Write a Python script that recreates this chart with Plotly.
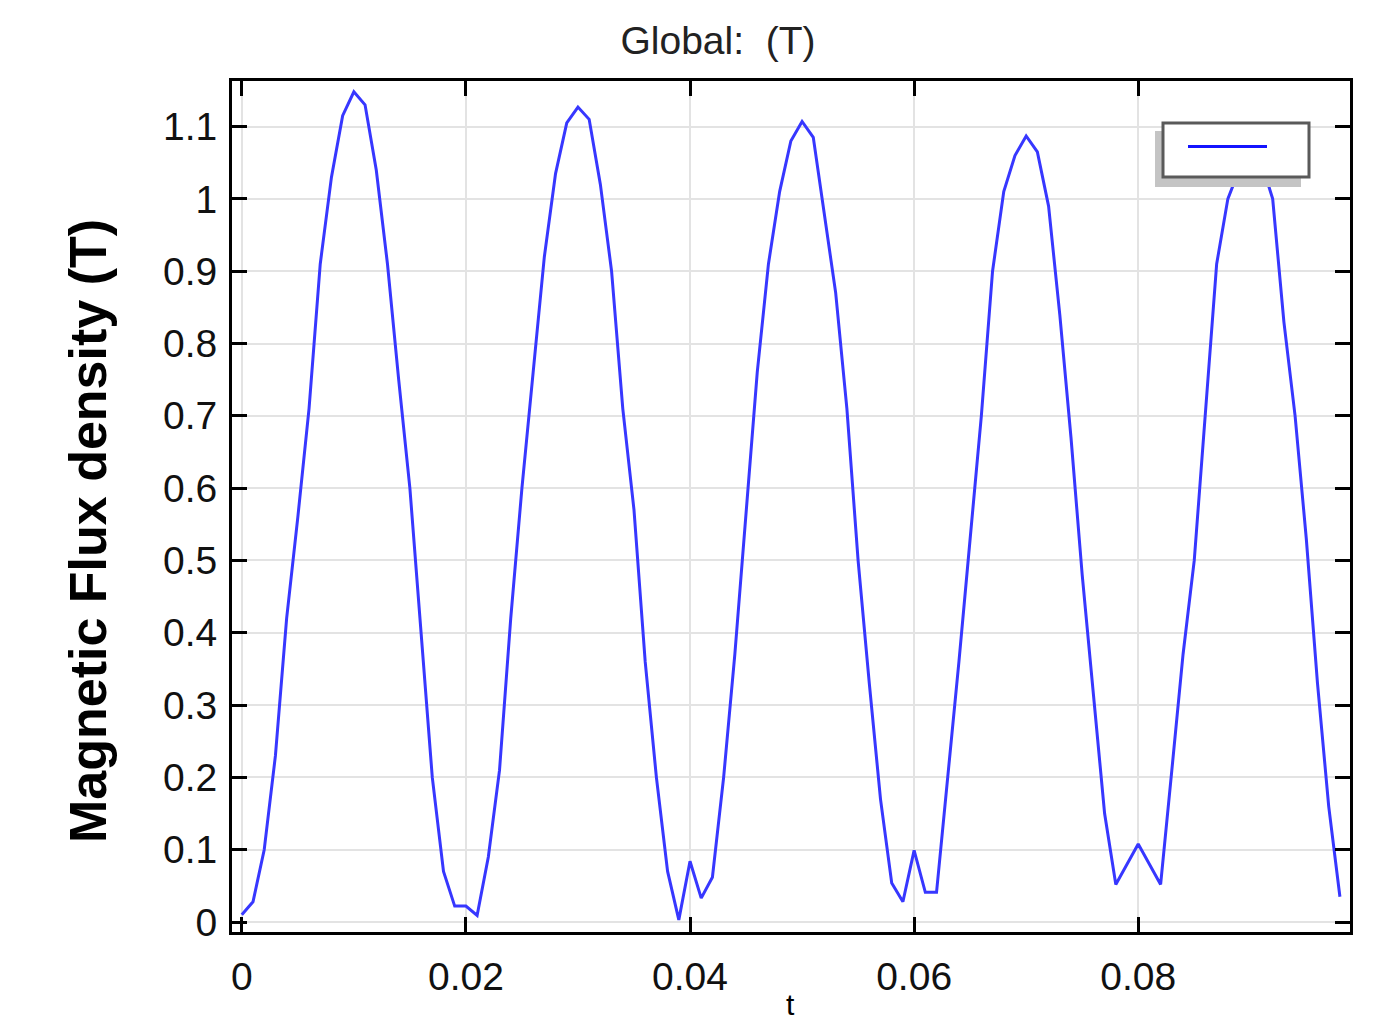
import plotly.graph_objects as go

# time samples (s)
t_step = 0.001
n_points = 99
time_s = [round(i * t_step, 3) for i in range(n_points)]

# Magnetic flux density (T)
flux_T = [
    0.010, 0.028, 0.100, 0.230, 0.420, 0.560, 0.710, 0.910, 1.030, 1.115,
    1.148, 1.130, 1.040, 0.910, 0.750, 0.600, 0.400, 0.200, 0.070, 0.022,
    0.022, 0.009, 0.090, 0.210, 0.420, 0.600, 0.760, 0.920, 1.035, 1.105,
    1.127, 1.110, 1.020, 0.900, 0.710, 0.570, 0.360, 0.200, 0.070, 0.003,
    0.084, 0.033, 0.062, 0.200, 0.370, 0.570, 0.760, 0.910, 1.010, 1.080,
    1.107, 1.085, 0.980, 0.870, 0.710, 0.500, 0.330, 0.170, 0.054, 0.028,
    0.099, 0.041, 0.041, 0.200, 0.360, 0.530, 0.700, 0.900, 1.010, 1.060,
    1.087, 1.065, 0.990, 0.840, 0.670, 0.480, 0.310, 0.150, 0.052, 0.080,
    0.108, 0.080, 0.052, 0.210, 0.370, 0.500, 0.700, 0.910, 1.000, 1.040,
    1.065, 1.050, 1.000, 0.830, 0.700, 0.530, 0.330, 0.160, 0.035,
]

x_ticks = [0, 0.02, 0.04, 0.06, 0.08]
x_tick_labels = ["0", "0.02", "0.04", "0.06", "0.08"]
y_ticks = [0, 0.1, 0.2, 0.3, 0.4, 0.5, 0.6, 0.7, 0.8, 0.9, 1.0, 1.1]
y_tick_labels = ["0", "0.1", "0.2", "0.3", "0.4", "0.5", "0.6", "0.7", "0.8", "0.9", "1", "1.1"]

title_text = "Global:  (T)"
y_title = "<b>Magnetic Flux density (T)</b>"
x_title = "t"

FONT = "Liberation Sans"
W, H = 1400, 1027
L, R, T, B = 232, 50, 81, 95

fig = go.Figure()
fig.add_trace(go.Scatter(
    x=time_s, y=flux_T, mode="lines",
    line=dict(color="rgb(55,55,255)", width=3),
    showlegend=False, name="",
))

axis_common = dict(
    showline=True, linecolor="black", linewidth=3, mirror="ticks",
    ticks="inside", ticklen=15, tickwidth=3, tickcolor="black",
    showgrid=True, gridcolor="#e3e3e3", gridwidth=2,
    zeroline=False,
    tickfont=dict(family=FONT, size=39, color="#111111"),
)

fig.update_xaxes(
    range=[-0.000875, 0.0989],
    tickvals=x_ticks, ticktext=x_tick_labels,
    ticklabelstandoff=8,
    **axis_common,
)
fig.update_yaxes(
    range=[-0.0138, 1.163],
    tickvals=y_ticks, ticktext=y_tick_labels,
    ticklabelstandoff=4,
    **axis_common,
)

# legend box drawn as decoration (paper coordinates)
pw, ph = W - L - R, H - T - B
def px(x): return (x - L) / pw
def py(y): return (H - B - y) / ph

shapes = [
    dict(type="rect", xref="paper", yref="paper",
         x0=px(1155), x1=px(1301), y0=py(187), y1=py(131),
         fillcolor="#c4c4c4", line=dict(width=0), layer="above"),
    dict(type="rect", xref="paper", yref="paper",
         x0=px(1163), x1=px(1309), y0=py(177), y1=py(123),
         fillcolor="white", line=dict(color="#5a5a5a", width=3), layer="above"),
    dict(type="line", xref="paper", yref="paper",
         x0=px(1188), x1=px(1267), y0=py(146.5), y1=py(146.5),
         line=dict(color="rgb(20,20,255)", width=3), layer="above"),
]

annotations = [
    dict(text=y_title, xref="paper", yref="paper", x=px(88), y=py(531),
         xanchor="center", yanchor="middle", textangle=-90, showarrow=False,
         font=dict(family=FONT, size=52, color="black")),
    dict(text=x_title, xref="paper", yref="paper", x=px(790), y=py(1004),
         xanchor="center", yanchor="middle", showarrow=False,
         font=dict(family=FONT, size=30, color="black")),
]

fig.update_layout(
    width=W, height=H,
    margin=dict(l=L, r=R, t=T, b=B, autoexpand=False),
    paper_bgcolor="white", plot_bgcolor="white",
    title=dict(text=title_text, x=718 / W, xanchor="center",
               y=1 - 40 / H, yanchor="middle",
               font=dict(family=FONT, size=39, color="#222222")),
    shapes=shapes,
    annotations=annotations,
    showlegend=False,
)

fig.write_html("out.html", config={"displayModeBar": False},
               post_script="document.body.style.margin='0';")
